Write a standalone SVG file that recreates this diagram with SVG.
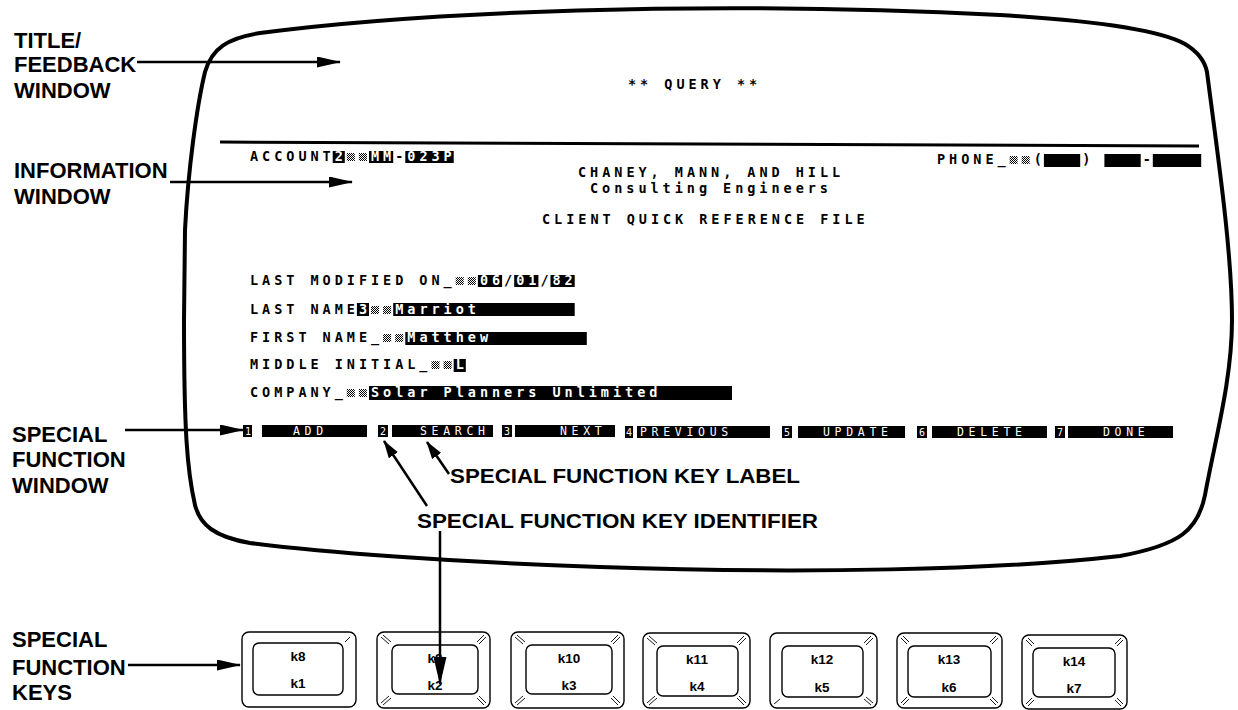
<svg xmlns="http://www.w3.org/2000/svg" width="1238" height="710" viewBox="0 0 1238 710">
<style>
.lbl{font-family:"Liberation Sans",Arial,sans-serif;font-weight:bold;font-size:22px;fill:#000}
.mid{font-family:"Liberation Sans",Arial,sans-serif;font-weight:bold;font-size:21px;fill:#000}
.t{font-family:"DejaVu Sans Mono","Liberation Mono",monospace;font-weight:bold;font-size:13.5px;letter-spacing:3.97px;fill:#000}
.w{fill:#fff}
.fk{font-family:"DejaVu Sans Mono","Liberation Mono",monospace;font-size:11.5px;letter-spacing:4.7px;fill:#fff}
.fn{font-family:"DejaVu Sans Mono","Liberation Mono",monospace;font-size:10px;fill:#fff}
.kt{font-family:"Liberation Sans",Arial,sans-serif;font-weight:bold;font-size:13.5px;fill:#000;text-anchor:middle}
.blk{fill:#000}
.chk{fill:url(#chk)}
.kout{fill:#fff;stroke:#000;stroke-width:1.4}
.kin{fill:#fff;stroke:#000;stroke-width:1.4}
.bev{stroke:#000;stroke-width:0.9;fill:none}
.crt{fill:none;stroke:#000;stroke-width:4;stroke-linejoin:round}
.con{fill:none;stroke:#000;stroke-width:2.5}
</style>
<defs>
<pattern id="chk" width="2" height="2" patternUnits="userSpaceOnUse"><rect x="0" y="0" width="1" height="1" fill="#000"/><rect x="1" y="1" width="1" height="1" fill="#000"/></pattern>
<marker id="a1" viewBox="0 0 24 11" refX="23" refY="5.5" markerWidth="24" markerHeight="11" markerUnits="userSpaceOnUse" orient="auto"><path d="M0,0 L24,5.5 L0,11 Z" fill="#000"/></marker>
<marker id="a2" viewBox="0 0 18 11" refX="17" refY="5.5" markerWidth="18" markerHeight="11" markerUnits="userSpaceOnUse" orient="auto"><path d="M0,0 L18,5.5 L0,11 Z" fill="#000"/></marker>
<marker id="a3" viewBox="0 0 28 13" refX="27" refY="6.5" markerWidth="28" markerHeight="13" markerUnits="userSpaceOnUse" orient="auto"><path d="M0,0 L28,6.5 L0,13 Z" fill="#000"/></marker>
</defs>
<rect width="1238" height="710" fill="#fff"/>

<g id="screen">
<path class="crt" d="M184,320 L185,230 C188,170 197,105 205,72 C212,48 228,38 260,33 C420,12 700,0 1000,15 C1100,21 1160,30 1185,44 C1200,53 1205,62 1207,72 C1217,150 1232,250 1232,320 C1232,380 1215,440 1205,495 C1198,530 1180,545 1120,556 C1000,570 800,574 600,567 C450,562 320,552 250,543 C215,537 200,525 195,505 C187,470 184,430 184,320 Z"/>
<path d="M220,142 L1199,146" stroke="#000" stroke-width="3" fill="none"/>
</g>

<g id="title-window">
<text class="t" x="628" y="89">** QUERY **</text>
</g>

<g id="information-window">
<text class="t" x="250" y="161">ACCOUNT</text>
<rect class="blk" x="332.7" y="151" width="12.1" height="12"/><text class="t w" x="334.7" y="161">2</text>
<rect class="chk" x="346.8" y="153" width="8" height="8"/><rect class="chk" x="358.9" y="153" width="8" height="8"/>
<rect class="blk" x="369" y="151" width="24.2" height="12"/><text class="t w" x="371" y="161">MM</text>
<text class="t" x="395.2" y="161">-</text>
<rect class="blk" x="405.3" y="151" width="48.4" height="12"/><text class="t w" x="407.3" y="161">023P</text>

<text class="t" x="937" y="164">PHONE_</text>
<rect class="chk" x="1009.6" y="156" width="8" height="8"/><rect class="chk" x="1021.7" y="156" width="8" height="8"/>
<text class="t" x="1033.8" y="164">(</text>
<rect class="blk" x="1043.9" y="154" width="36.3" height="13"/>
<text class="t" x="1082.2" y="164">)</text>
<rect class="blk" x="1104.4" y="154" width="36.3" height="13"/>
<text class="t" x="1142.7" y="164">-</text>
<rect class="blk" x="1152.8" y="154" width="48.4" height="13"/>

<text class="t" x="578" y="177">CHANEY, MANN, AND HILL</text>
<text class="t" x="590" y="193">Consulting Engineers</text>
<text class="t" x="542" y="224">CLIENT QUICK REFERENCE FILE</text>

<text class="t" x="250" y="285">LAST MODIFIED ON_</text>
<rect class="chk" x="455.7" y="277" width="8" height="8"/><rect class="chk" x="467.8" y="277" width="8" height="8"/>
<rect class="blk" x="477.9" y="275" width="24.2" height="12"/><text class="t w" x="479.9" y="285">06</text>
<text class="t" x="504.1" y="285">/</text>
<rect class="blk" x="514.2" y="275" width="24.2" height="12"/><text class="t w" x="516.2" y="285">01</text>
<text class="t" x="540.4" y="285">/</text>
<rect class="blk" x="550.5" y="275" width="24.2" height="12"/><text class="t w" x="552.5" y="285">82</text>

<text class="t" x="250" y="314">LAST NAME</text>
<rect class="blk" x="356.9" y="303" width="12.1" height="13"/><text class="t w" x="358.9" y="314">3</text>
<rect class="chk" x="371" y="306" width="8" height="8"/><rect class="chk" x="383.1" y="306" width="8" height="8"/>
<rect class="blk" x="393.2" y="303" width="181.5" height="13"/><text class="t w" x="395.2" y="314">Marriot</text>

<text class="t" x="250" y="342">FIRST NAME_</text>
<rect class="chk" x="383.1" y="334" width="8" height="8"/><rect class="chk" x="395.2" y="334" width="8" height="8"/>
<rect class="blk" x="405.3" y="332" width="181.5" height="13"/><text class="t w" x="407.3" y="342">Matthew</text>

<text class="t" x="250" y="369">MIDDLE INITIAL_</text>
<rect class="chk" x="431.5" y="361" width="8" height="8"/><rect class="chk" x="443.6" y="361" width="8" height="8"/>
<rect class="blk" x="453.7" y="359" width="12.1" height="13"/><text class="t w" x="455.7" y="369">L</text>

<text class="t" x="250" y="397">COMPANY_</text>
<rect class="chk" x="346.8" y="389" width="8" height="8"/><rect class="chk" x="358.9" y="389" width="8" height="8"/>
<rect class="blk" x="369" y="386" width="363" height="14"/><text class="t w" x="371" y="397">Solar Planners Unlimited</text>
</g>

<g id="special-function-window">
<rect class="blk" x="243" y="425" width="9" height="12"/><text class="fn" x="245" y="435">1</text>
<rect class="blk" x="262" y="425" width="105" height="12"/><text class="fk" x="293" y="435">ADD</text>
<rect class="blk" x="378" y="425" width="10" height="12"/><text class="fn" x="380" y="435">2</text>
<rect class="blk" x="392" y="425" width="101" height="12"/><text class="fk" x="420" y="435">SEARCH</text>
<rect class="blk" x="502" y="425" width="10" height="12"/><text class="fn" x="504" y="435">3</text>
<rect class="blk" x="515" y="425" width="100" height="12"/><text class="fk" x="560" y="435">NEXT</text>
<rect class="blk" x="625" y="426" width="8" height="12"/><text class="fn" x="626" y="436">4</text>
<rect class="blk" x="637" y="426" width="133" height="12"/><text class="fk" x="640" y="436">PREVIOUS</text>
<rect class="blk" x="782" y="426" width="10" height="12"/><text class="fn" x="784" y="436">5</text>
<rect class="blk" x="798" y="426" width="107" height="12"/><text class="fk" x="823" y="436">UPDATE</text>
<rect class="blk" x="917" y="426" width="10" height="12"/><text class="fn" x="919" y="436">6</text>
<rect class="blk" x="932" y="426" width="115" height="12"/><text class="fk" x="957" y="436">DELETE</text>
<rect class="blk" x="1055" y="426" width="10" height="12"/><text class="fn" x="1057" y="436">7</text>
<rect class="blk" x="1068" y="426" width="105" height="12"/><text class="fk" x="1103" y="436">DONE</text>
</g>

<g id="label-title"><text class="lbl" x="14" y="48">TITLE/</text><text class="lbl" x="14" y="72">FEEDBACK</text><text class="lbl" x="14" y="98">WINDOW</text></g>
<g id="label-information"><text class="lbl" x="14" y="178">INFORMATION</text><text class="lbl" x="14" y="204">WINDOW</text></g>
<g id="label-sfw"><text class="lbl" x="12" y="442">SPECIAL</text><text class="lbl" x="12" y="467">FUNCTION</text><text class="lbl" x="12" y="493">WINDOW</text></g>
<g id="label-sfk"><text class="lbl" x="12" y="647">SPECIAL</text><text class="lbl" x="12" y="675">FUNCTION</text><text class="lbl" x="12" y="700">KEYS</text></g>
<g id="label-key-label"><text class="mid" x="450" y="483" textLength="350" lengthAdjust="spacingAndGlyphs">SPECIAL FUNCTION KEY LABEL</text></g>
<g id="label-key-identifier"><text class="mid" x="417" y="528" textLength="401" lengthAdjust="spacingAndGlyphs">SPECIAL FUNCTION KEY IDENTIFIER</text></g>

<g id="key1">
<rect class="kout" x="242" y="632" width="114" height="75" rx="7"/>
<rect class="kin" x="253" y="643" width="90" height="52" rx="6"/>
<path class="bev" d="M350,637 L345,642"/>
<text class="kt" x="298" y="661">k8</text><text class="kt" x="298" y="688">k1</text>
</g>
<g id="key2">
<rect class="kout" x="377" y="632" width="113" height="76" rx="7"/>
<rect class="kin" x="392" y="645" width="86" height="49" rx="6"/>
<path class="bev" d="M381,637 L389,644 M383,635 L391,642 M486,637 L479,644 M484,635 L477,642 M381,703 L389,696 M383,705 L391,698 M486,703 L479,696 M484,705 L477,698"/>
<text class="kt" x="435" y="663">k9</text><text class="kt" x="435" y="690">k2</text>
</g>
<g id="key3">
<rect class="kout" x="511" y="632" width="113" height="76" rx="7"/>
<rect class="kin" x="526" y="645" width="86" height="49" rx="6"/>
<path class="bev" d="M515,637 L523,644 M517,635 L525,642 M620,637 L613,644 M618,635 L611,642 M515,703 L523,696 M517,705 L525,698 M620,703 L613,696 M618,705 L611,698"/>
<text class="kt" x="569" y="663">k10</text><text class="kt" x="569" y="690">k3</text>
</g>
<g id="key4">
<rect class="kout" x="643" y="633" width="107" height="75" rx="7"/>
<rect class="kin" x="657" y="646" width="81" height="50" rx="6"/>
<path class="bev" d="M647,638 L655,645 M649,636 L657,643 M746,638 L739,645 M744,636 L737,643 M647,703 L655,696 M649,705 L657,698 M746,703 L739,696 M744,705 L737,698"/>
<text class="kt" x="697" y="664">k11</text><text class="kt" x="697" y="691">k4</text>
</g>
<g id="key5">
<rect class="kout" x="770" y="633" width="107" height="75" rx="7"/>
<rect class="kin" x="782" y="646" width="81" height="51" rx="6"/>
<path class="bev" d="M873,638 L866,645 M871,636 L864,643 M774,704 L780,699 M873,703 L866,697 M871,705 L864,699"/>
<text class="kt" x="822" y="664">k12</text><text class="kt" x="822" y="692">k5</text>
</g>
<g id="key6">
<rect class="kout" x="897" y="633" width="105" height="75" rx="7"/>
<rect class="kin" x="908" y="646" width="83" height="51" rx="6"/>
<path class="bev" d="M901,638 L907,644 M903,636 L909,642 M998,638 L992,644 M996,636 L990,642 M901,703 L907,697 M903,705 L909,699 M998,703 L992,697 M996,705 L990,699"/>
<text class="kt" x="949" y="664">k13</text><text class="kt" x="949" y="692">k6</text>
</g>
<g id="key7">
<rect class="kout" x="1022" y="635" width="105" height="74" rx="7"/>
<rect class="kin" x="1033" y="648" width="82" height="49" rx="6"/>
<path class="bev" d="M1026,640 L1032,646 M1028,638 L1034,644 M1123,640 L1117,646 M1121,638 L1115,644 M1026,704 L1032,698 M1028,706 L1034,700 M1123,704 L1117,698 M1121,706 L1115,700"/>
<text class="kt" x="1074" y="666">k14</text><text class="kt" x="1074" y="693">k7</text>
</g>

<g id="connectors">
<path class="con" d="M137,62 L340,62" marker-end="url(#a1)"/>
<path class="con" d="M170,182 L352,182" marker-end="url(#a1)"/>
<path class="con" d="M125,430 L243,430" marker-end="url(#a1)"/>
<path class="con" d="M128,665 L240,665" marker-end="url(#a1)"/>
<path class="con" d="M449,474 L427,442" marker-end="url(#a2)"/>
<path class="con" d="M427,506 L384,441" marker-end="url(#a2)"/>
<path class="con" d="M440,531 L440,684" marker-end="url(#a3)"/>
</g>
</svg>
